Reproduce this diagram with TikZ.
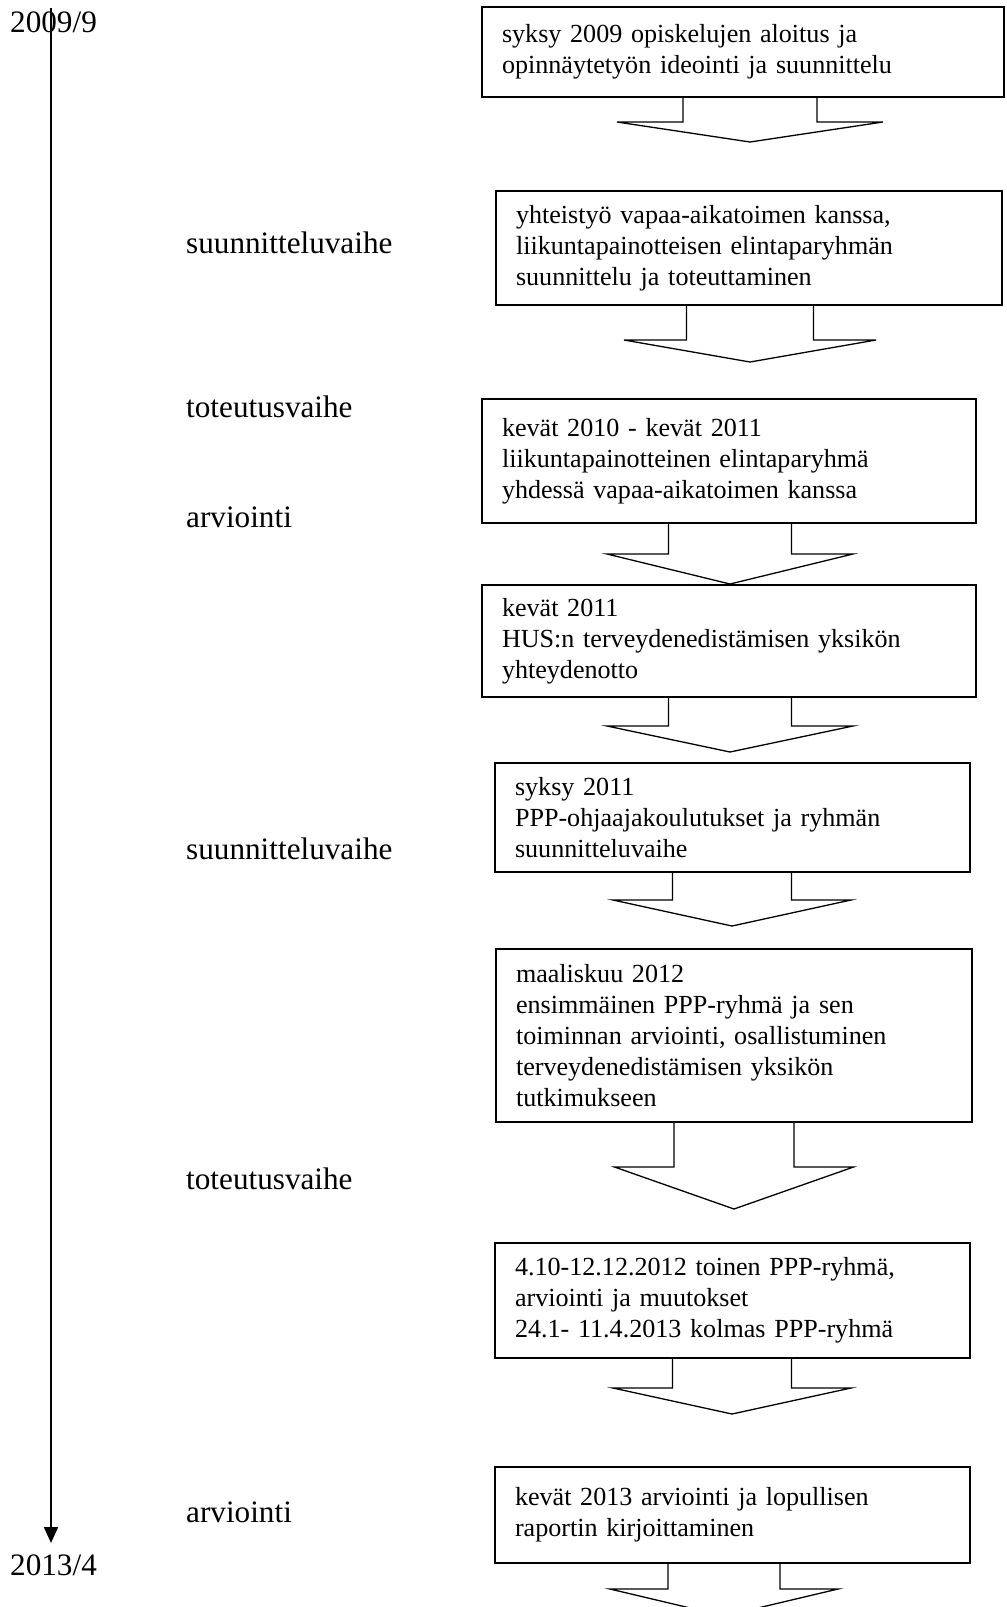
\documentclass[tikz,border=0pt]{standalone}
\usepackage{fontspec}
\setmainfont{Liberation Serif}
\usetikzlibrary{arrows.meta}

\tikzset{
  stepbox/.style={draw, line width=1.3pt, align=left, inner xsep=20pt, inner ysep=0pt,
    font=\fontsize{26.1}{31}\selectfont},
  phase/.style={anchor=west, inner sep=0pt, font=\fontsize{31.2}{36}\selectfont},
  blockarrow/.style={draw, line width=1.3pt, line join=miter},
  timeline/.style={line width=2pt, -{Triangle[width=14pt,length=16pt]}}
}

% block arrow: centre x, stem half width, wing half width, top y, wing y, tip y
\newcommand{\flowarrow}[6]{%
  \draw[blockarrow] ({#1-#2},#4) -- ({#1-#2},#5) -- ({#1-#3},#5) -- (#1,#6)
    -- ({#1+#3},#5) -- ({#1+#2},#5) -- ({#1+#2},#4);}

\begin{document}
\begin{tikzpicture}[x=1pt,y=-1pt]
  \useasboundingbox (0,0) rectangle (1007,1607);

  % time axis
  \coordinate (tstart) at (51,8);
  \coordinate (tend) at (51,1543);
  \draw[timeline] (tstart) -- (tend);
  \node[phase] (d1) at (10,22) {2009/9};
  \node[phase] (d2) at (10,1565) {2013/4};

  % phases
  \node[phase] (p1) at (186,243) {suunnitteluvaihe};
  \node[phase] (p2) at (186,407) {toteutusvaihe};
  \node[phase] (p3) at (186,517) {arviointi};
  \node[phase] (p4) at (186,849) {suunnitteluvaihe};
  \node[phase] (p5) at (186,1179) {toteutusvaihe};
  \node[phase] (p6) at (186,1512) {arviointi};

  % steps
  \node[stepbox, text width=482pt, minimum height=90pt] (b1) at (743,52)
    {syksy 2009 opiskelujen aloitus ja\\opinnäytetyön ideointi ja suunnittelu};
  \node[stepbox, text width=466pt, minimum height=114pt] (b2) at (749,248)
    {yhteistyö vapaa-aikatoimen kanssa,\\liikuntapainotteisen elintaparyhmän\\suunnittelu ja toteuttaminen};
  \node[stepbox, text width=454pt, minimum height=124pt] (b3) at (729,461)
    {kevät 2010 - kevät 2011\\liikuntapainotteinen elintaparyhmä\\yhdessä vapaa-aikatoimen kanssa};
  \node[stepbox, text width=454pt, minimum height=112pt] (b4) at (729,641)
    {kevät 2011\\HUS:n terveydenedistämisen yksikön\\yhteydenotto};
  \node[stepbox, text width=435pt, minimum height=109pt] (b5) at (732.5,817.5)
    {syksy 2011\\PPP-ohjaajakoulutukset ja ryhmän\\suunnitteluvaihe};
  \node[stepbox, text width=436pt, minimum height=173pt] (b6) at (734,1035.5)
    {maaliskuu 2012\\ensimmäinen PPP-ryhmä ja sen\\toiminnan arviointi, osallistuminen\\terveydenedistämisen yksikön\\tutkimukseen};
  \node[stepbox, text width=435pt, minimum height=115pt] (b7) at (732.5,1300.5)
    {4.10-12.12.2012 toinen PPP-ryhmä,\\arviointi ja muutokset\\24.1- 11.4.2013 kolmas PPP-ryhmä};
  \node[stepbox, text width=435pt, minimum height=96pt] (b8) at (732.5,1515)
    {kevät 2013 arviointi ja lopullisen\\raportin kirjoittaminen};

  % arrows between steps
  \flowarrow{750}{67}{133}{97}{122}{142}
  \flowarrow{750}{63.5}{126}{305}{340}{362}
  \flowarrow{730}{61.5}{123}{523}{554}{584}
  \flowarrow{730}{61.5}{123}{697}{726}{752}
  \flowarrow{732}{59.5}{119}{872}{900}{926}
  \flowarrow{734}{60}{119.5}{1122}{1167}{1209}
  \flowarrow{732}{59.5}{119}{1358}{1388}{1414}
  \flowarrow{724}{56}{114}{1563}{1589}{1616}
\end{tikzpicture}
\end{document}
